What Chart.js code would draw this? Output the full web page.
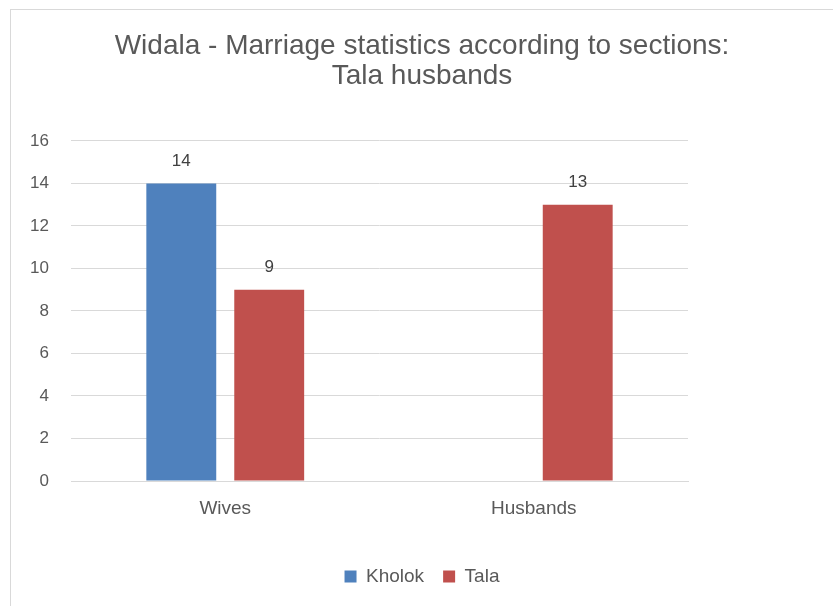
<!DOCTYPE html>
<html>
<head>
<meta charset="utf-8">
<script src="https://cdn.jsdelivr.net/npm/chart.js@4.4.1/dist/chart.umd.min.js"></script>
<style>
  html, body { margin: 0; padding: 0; background: #fff; }
  #wrap { position: absolute; left: 10px; top: 9px; width: 823px; height: 597px;
          border-top: 1px solid #d9d9d9; border-left: 1px solid #d9d9d9; box-sizing: border-box; }
  canvas { display: block; }
</style>
</head>
<body>
<div id="wrap"><canvas id="c"></canvas></div>
<script>
const titleLines = ["Widala - Marriage statistics according to sections:", "Tala husbands"];
const categories = ["Wives", "Husbands"];
const seriesNames = ["Kholok", "Tala"];
const kholokValues = [14, null];
const talaValues = [9, 13];
const yTicks = [0, 2, 4, 6, 8, 10, 12, 14, 16];

const FONT = '"Liberation Sans", Arial, sans-serif';

const valueLabels = {
  id: 'valueLabels',
  afterDatasetsDraw(chart) {
    const ctx = chart.ctx;
    ctx.save();
    ctx.font = '17px ' + FONT;
    ctx.fillStyle = '#404040';
    ctx.textAlign = 'center';
    ctx.textBaseline = 'middle';
    chart.data.datasets.forEach((ds, i) => {
      const meta = chart.getDatasetMeta(i);
      meta.data.forEach((bar, j) => {
        const v = ds.data[j];
        if (v === null || v === undefined) return;
        ctx.fillText(String(v), bar.x, bar.y - 22);
      });
    });
    ctx.restore();
  }
};

new Chart(document.getElementById('c'), {
  type: 'bar',
  data: {
    labels: categories,
    datasets: [
      { label: seriesNames[0], data: kholokValues, backgroundColor: '#4F81BD',
        categoryPercentage: 0.57, barPercentage: 0.795 },
      { label: seriesNames[1], data: talaValues, backgroundColor: '#C0504D',
        categoryPercentage: 0.57, barPercentage: 0.795 }
    ]
  },
  options: {
    responsive: true,
    maintainAspectRatio: false,
    animation: false,
    layout: { padding: { left: 0, right: 0, top: 0, bottom: 10 } },
    plugins: {
      title: {
        display: true,
        text: titleLines,
        color: '#595959',
        font: { family: FONT, size: 28, weight: 'normal', lineHeight: 1.07 },
        padding: { top: 21, bottom: 50 }
      },
      legend: {
        position: 'bottom',
        labels: {
          color: '#595959',
          font: { family: FONT, size: 19 },
          boxWidth: 12, boxHeight: 12, padding: 19
        }
      },
      tooltip: { enabled: false }
    },
    scales: {
      x: {
        grid: { display: false, drawTicks: false },
        border: { color: '#d9d9d9' },
        ticks: { color: '#595959', font: { family: FONT, size: 19 }, padding: 16 },
        afterFit(s) { s.height = 67; }
      },
      y: {
        min: 0, max: 16,
        afterBuildTicks(s) { s.ticks = yTicks.map(v => ({ value: v })); },
        grid: { color: '#d9d9d9', drawTicks: false },
        border: { display: false },
        ticks: { color: '#595959', font: { family: FONT, size: 17 }, padding: 22 },
        afterFit(s) { s.width = 60; }
      },
      yRightSpace: {
        position: 'right',
        display: true,
        grid: { display: false, drawTicks: false },
        border: { display: false },
        ticks: { display: false },
        afterFit(s) { s.width = 145; }
      }
    }
  },
  plugins: [valueLabels]
});
</script>
</body>
</html>
